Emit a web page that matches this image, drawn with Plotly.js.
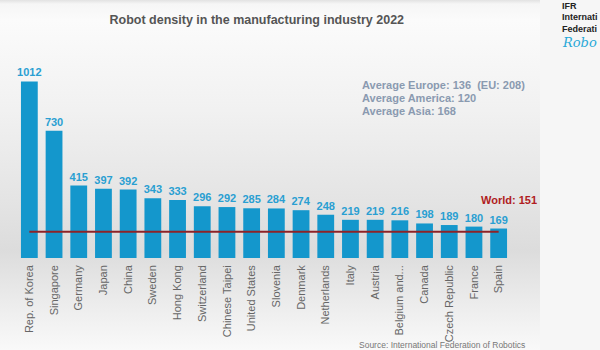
<!DOCTYPE html>
<html>
<head>
<meta charset="utf-8">
<script src="https://cdn.plot.ly/plotly-3.0.1.min.js"></script>
<style>
html,body{margin:0;padding:0;}
#wrap{position:relative;width:600px;height:350px;overflow:hidden;
background:
 linear-gradient(to right, rgba(0,0,0,0) 540px, #f6f6f6 540px),
 linear-gradient(to bottom, #e2e2e2 0px, #f6f6f6 4px, #fbfbfb 20px, #f1f1f1 110px, #e4e4e4 200px, #dcdcdc 250px, #ebebeb 300px, #f9f9f9 350px);}
#chart{position:absolute;left:0;top:0;width:600px;height:350px;}
</style>
</head>
<body>
<div id="wrap"><div id="chart"></div></div>
<script>
const categories = ["Rep. of Korea","Singapore","Germany","Japan","China","Sweden","Hong Kong","Switzerland","Chinese Taipei","United States","Slovenia","Denmark","Netherlands","Italy","Austria","Belgium and...","Canada","Czech Republic","France","Spain"];
const density = [1012,730,415,397,392,343,333,296,292,285,284,274,248,219,219,216,198,189,180,169];
const worldAverage = 151;
const regionAverages = ["Average Europe: 136  (EU: 208)","Average America: 120","Average Asia: 168"];
const logoLines = ["IFR","Internati","Federati"];
const logoScript = "Robo";

const font = "Liberation Sans, Arial, sans-serif";

const bars = {
  type: 'bar', x: categories, y: density,
  marker: {color: '#1497cc'},
  text: density.map(String), textposition: 'outside', cliponaxis: false,
  constraintext: 'none',
  textfont: {family: font, size: 11, color: '#2a9fd2', weight: 'bold'},
  hoverinfo: 'skip'
};
const worldLine = {
  type: 'scatter', mode: 'lines', x: categories,
  y: categories.map(() => worldAverage),
  line: {color: '#8e2327', width: 2}, hoverinfo: 'skip'
};

const annotations = [];
regionAverages.forEach((t, i) => {
  annotations.push({xref:'paper', yref:'paper', x:0.694, y:0.874 - i*0.0657,
    xanchor:'left', yanchor:'middle', showarrow:false, text:'<b>'+t+'</b>',
    font:{family:font, size:11, color:'#8a9ab0'}});
});
annotations.push({xref:'paper', yref:'paper', x:0.996, y:0.293, xanchor:'center', yanchor:'middle',
  showarrow:false, text:'<b>World: '+worldAverage+'</b>', font:{family:font, size:11, color:'#b01c22'}});
annotations.push({xref:'paper', yref:'paper', x:0.860, y:-0.439, xanchor:'center', yanchor:'middle',
  showarrow:false, text:'Source: International Federation of Robotics', font:{family:font, size:8.5, color:'#777'}});
// logo text (visible part of the cropped logo)
const logoY = [1.273, 1.217, 1.157];
logoLines.forEach((t, i) => {
  annotations.push({xref:'paper', yref:'paper', x:1.099, y:logoY[i], xanchor:'left', yanchor:'middle',
    showarrow:false, text:'<b>'+t+'</b>', font:{family:font, size:9, color:'#222'}});
});
annotations.push({xref:'paper', yref:'paper', x:1.099, y:1.086, xanchor:'left', yanchor:'middle',
  showarrow:false, text:'<i>'+logoScript+'</i>', font:{family:'DejaVu Serif, serif', size:13, color:'#29a9d8'}});

const layout = {
  width: 600, height: 350,
  margin: {l:17, r:89, t:60, b:92},
  paper_bgcolor: 'rgba(0,0,0,0)', plot_bgcolor: 'rgba(0,0,0,0)',
  showlegend: false, bargap: 0.32,
  title: {text: '<b>Robot density in the manufacturing industry 2022</b>',
    x: 0.428, xanchor: 'center', y: 0.943, yanchor: 'middle',
    font: {family: font, size: 12.5, color: '#555'}},
  xaxis: {type:'category', tickangle:-90, showgrid:false, zeroline:false, showline:false,
    ticks:'', ticklabelstandoff: 4,
    tickfont: {family: font, size: 11, color: '#666'}},
  yaxis: {range:[0,1135], visible:false, showgrid:false, zeroline:false},
  annotations: annotations
};
Plotly.newPlot('chart', [bars, worldLine], layout, {displayModeBar:false, staticPlot:true});
</script>
</body>
</html>
